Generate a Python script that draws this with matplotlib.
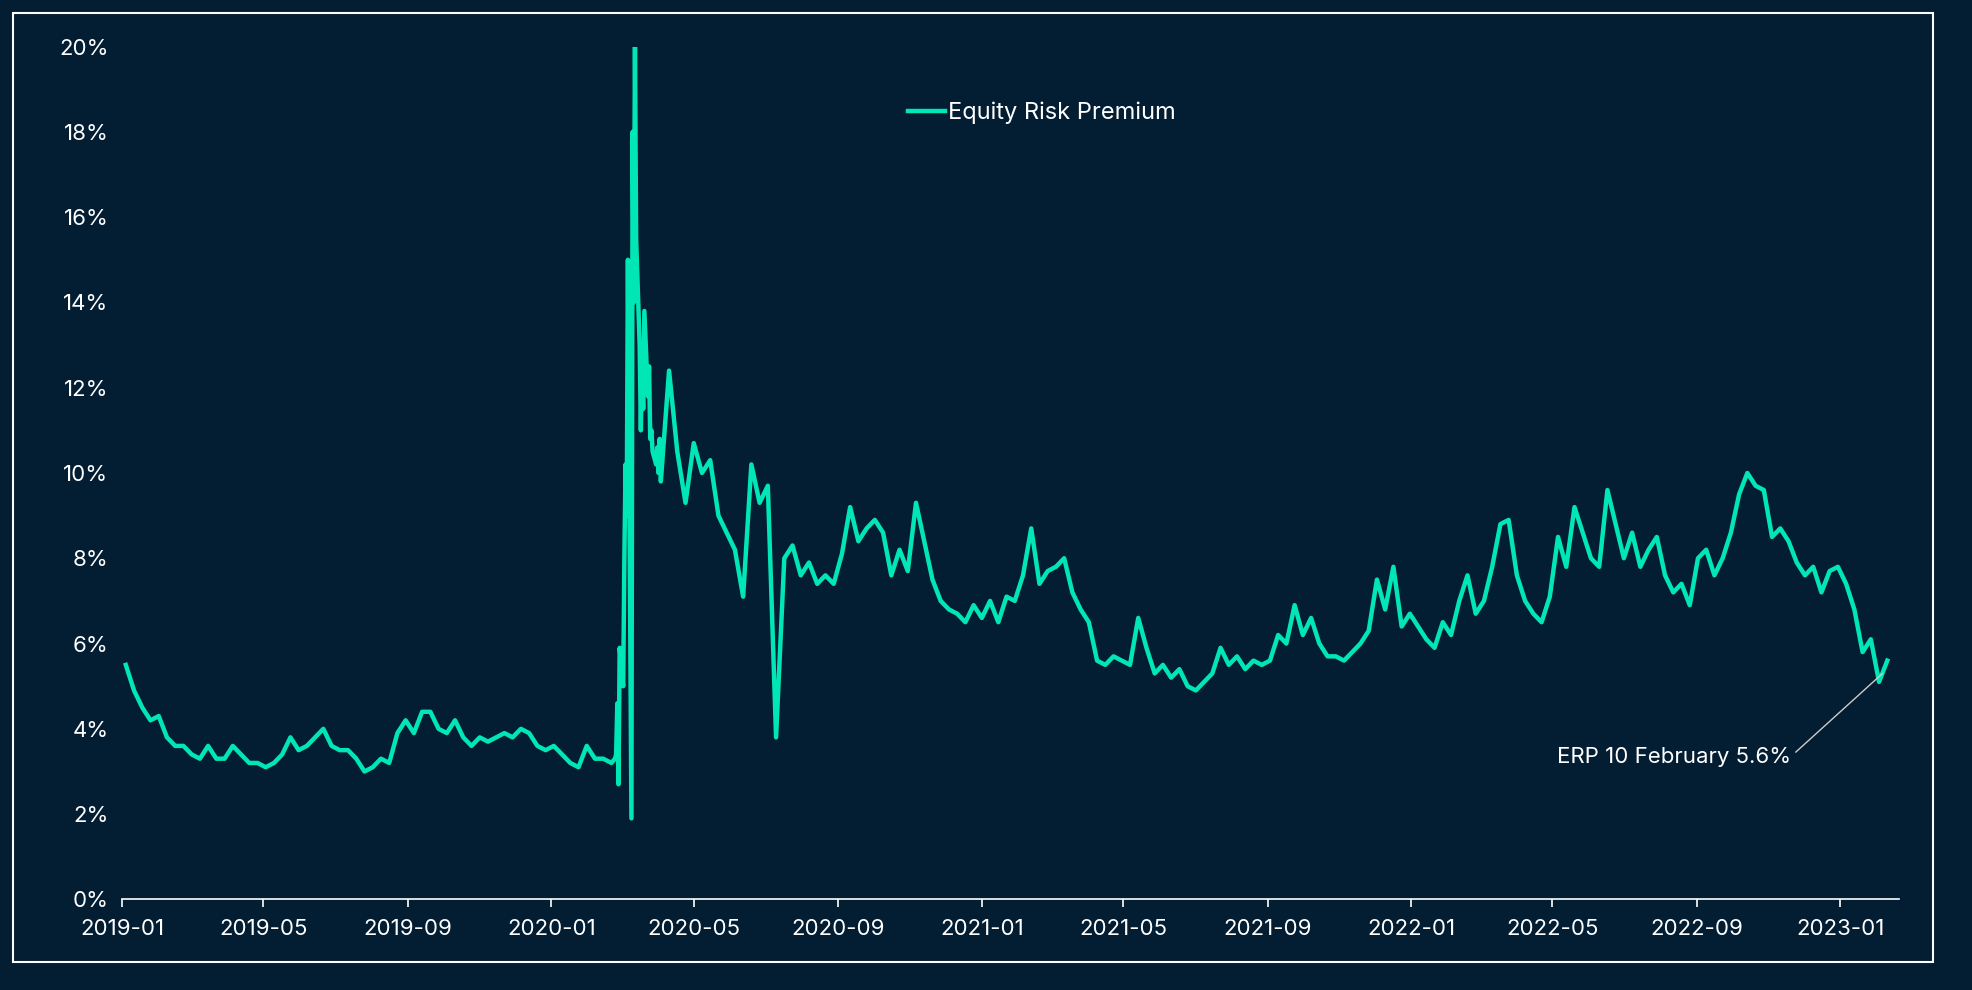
import matplotlib
matplotlib.use("Agg")
import matplotlib.pyplot as plt
import matplotlib.dates as mdates
import pandas as pd
import numpy as np

# Segment A: weekly Fridays 2019-01-04 .. 2020-02-21
erp_weekly_a = [5.5,4.9,4.5,4.2, 4.3,3.8,3.6,3.6, 3.4,3.3,3.6,3.3,3.3, 3.6,3.4,3.2,3.2,
                3.1,3.2,3.4,3.8,3.5, 3.6,3.8,4.0,3.6, 3.5,3.5,3.3,3.0, 3.1,3.3,3.2,3.9,4.2,
                3.9,4.4,4.4,4.0, 3.9,4.2,3.8,3.6, 3.8,3.7,3.8,3.9,3.8, 4.0,3.9,3.6,3.5,
                3.6,3.4,3.2,3.1,3.6, 3.3,3.3,3.2]
# Segment B: business days 2020-02-24 .. 2020-04-03
erp_daily_b = [3.3,3.4,4.6,2.7,5.9, 5.0,8.0,10.2,9.0,15.0, 1.9,18.0,14.0,20.0,15.5,
               13.0,11.0,12.6,11.5,13.8, 11.8,12.5,10.8,11.0,10.5, 10.2,10.6,10.0,10.8,9.8]
# Segment C: weekly Fridays 2020-04-10 .. 2023-02-10
erp_weekly_c = [12.4,10.5,9.3, 10.7,10.0,10.3,9.0,8.6, 8.2,7.1,10.2,9.3, 9.7,3.8,8.0,8.3,7.6,
                7.9,7.4,7.6,7.4, 8.1,9.2,8.4,8.7, 8.9,8.6,7.6,8.2,7.7, 9.3,8.4,7.5,7.0, 6.8,6.7,6.5,6.9,
                6.6,7.0,6.5,7.1,7.0, 7.6,8.7,7.4,7.7, 7.8,8.0,7.2,6.8, 6.5,5.6,5.5,5.7,5.6,
                5.5,6.6,5.9,5.3, 5.5,5.2,5.4,5.0, 4.9,5.1,5.3,5.9,5.5, 5.7,5.4,5.6,5.5,
                5.6,6.2,6.0,6.9, 6.2,6.6,6.0,5.7,5.7, 5.6,5.8,6.0,6.3, 7.5,6.8,7.8,6.4,6.7,
                6.4,6.1,5.9,6.5, 6.2,7.0,7.6,6.7, 7.0,7.8,8.8,8.9, 7.6,7.0,6.7,6.5,7.1,
                8.5,7.8,9.2,8.6, 8.0,7.8,9.6,8.8, 8.0,8.6,7.8,8.2,8.5, 7.6,7.2,7.4,6.9,
                8.0,8.2,7.6,8.0,8.6, 9.5,10.0,9.7,9.6, 8.5,8.7,8.4,7.9, 7.6,7.8,7.2,7.7,7.8,
                7.4,6.8,5.8,6.1, 5.1,5.6]

dates = (list(pd.date_range("2019-01-04", periods=len(erp_weekly_a), freq="W-FRI"))
         + list(pd.bdate_range("2020-02-24", periods=len(erp_daily_b)))
         + list(pd.date_range("2020-04-10", periods=len(erp_weekly_c), freq="W-FRI")))
values = np.array(erp_weekly_a + erp_daily_b + erp_weekly_c) / 100.0

tick_labels = ["2019-01","2019-05","2019-09","2020-01","2020-05","2020-09","2021-01",
               "2021-05","2021-09","2022-01","2022-05","2022-09","2023-01"]

BG = "#031d33"
LINE = "#00e6b4"
FONT = "Inter"

fig = plt.figure(figsize=(19.72, 9.9), dpi=100, facecolor=BG)
border = plt.Rectangle((0.0064, 0.028), 0.9736, 0.959, transform=fig.transFigure,
                       fill=False, edgecolor="white", linewidth=1.5)
fig.patches.append(border)

ax = fig.add_axes([0.062, 0.0915, 0.901, 0.8615], facecolor=BG)
ax.plot(dates, values, color=LINE, linewidth=3.2, label="Equity Risk Premium")

ax.set_ylim(0, 0.20)
ax.set_yticks(np.arange(0, 0.201, 0.02))
ax.set_yticklabels([f"{int(round(v*100))}%" for v in np.arange(0, 0.201, 0.02)])
ax.set_xlim(pd.Timestamp("2019-01-01"), pd.Timestamp("2023-02-20"))
ax.set_xticks([pd.Timestamp(t + "-01") for t in tick_labels])
ax.set_xticklabels(tick_labels)

for s in ["top", "right", "left"]:
    ax.spines[s].set_visible(False)
ax.spines["bottom"].set_color("white")
ax.spines["bottom"].set_linewidth(1.2)
ax.tick_params(axis="x", colors="white", length=6, width=1.2, labelsize=16, pad=8)
ax.tick_params(axis="y", colors="white", length=0, labelsize=16, pad=10)
for lab in ax.get_xticklabels() + ax.get_yticklabels():
    lab.set_fontfamily(FONT)
    lab.set_color("white")

leg = ax.legend(loc="upper left", bbox_to_anchor=(0.43, 0.96), frameon=False,
                handlelength=1.6, handletextpad=0.1, prop={"family": FONT, "size": 17})
for t in leg.get_texts():
    t.set_color("white")

ax.annotate("ERP 10 February 5.6%", xy=(pd.Timestamp("2023-02-06"), 0.053),
            xytext=(pd.Timestamp("2022-11-20"), 0.0335), color="white",
            fontfamily=FONT, fontsize=16, ha="right", va="center",
            arrowprops=dict(arrowstyle="-", color="#cccccc", lw=1,
                            shrinkA=2, shrinkB=0, relpos=(1.0, 0.5)))

fig.savefig("out.png", dpi=100, facecolor=BG)
